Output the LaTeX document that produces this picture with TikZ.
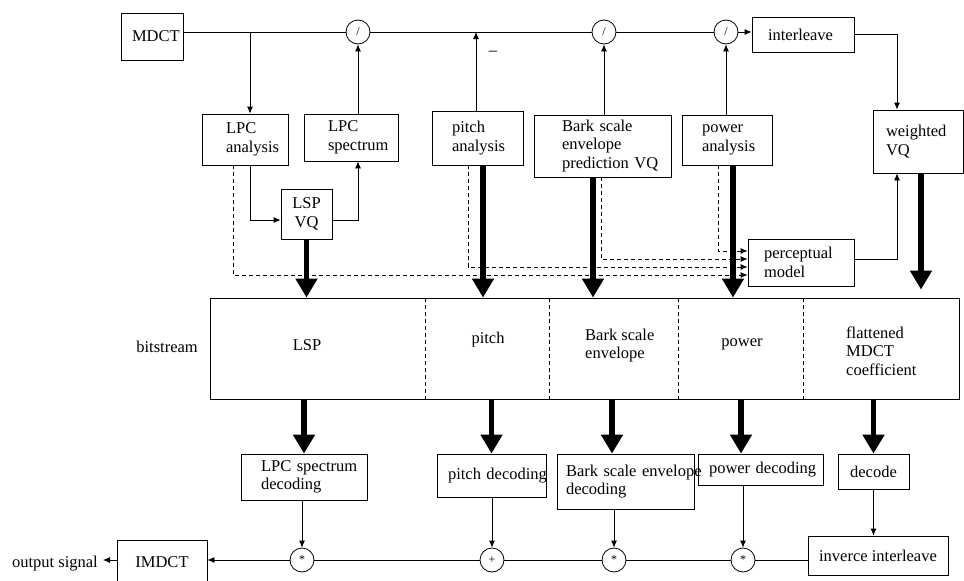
\documentclass[tikz,border=0pt]{standalone}
\usepackage{fontspec}
\setmainfont{Liberation Serif}
\usetikzlibrary{arrows.meta,calc}
\newcommand\diafont{\fontsize{16.5}{18.5}\selectfont}
\begin{document}
\begin{tikzpicture}[x=1pt,y=-1pt,
  every node/.style={font=\diafont},
  box/.style={draw, line width=0.8pt, inner sep=0pt, align=left},
  circ/.style={draw, circle, line width=0.8pt, minimum size=24pt, inner sep=0pt, fill=white, font=\fontsize{12}{12}\selectfont},
  ln/.style={line width=0.8pt},
  arr/.style={line width=0.8pt, -{Latex[length=7pt,width=6pt]}},
  dsh/.style={line width=0.8pt, dash pattern=on 4pt off 3pt, -{Latex[length=7pt,width=6pt]}},
  divl/.style={line width=0.8pt, dash pattern=on 4pt off 3pt},
  fat/.style={line width=5.5pt, -{Triangle[length=19pt,width=21pt]}},
  lbl/.style={inner sep=0pt, align=left}]
\clip (0,0) rectangle (964,581);
\fill[white] (0,0) rectangle (964,581);

% ---------- encoder ----------
\node[box, minimum width=62pt, minimum height=47pt, text width=40pt] (mdct) at (152,36.5) {MDCT};
\node[circ] (c1) at (358,32) {/};
\node[circ] (c2) at (604,32) {/};
\node[circ] (c3) at (726,32) {/};
\node[box, minimum width=102pt, minimum height=35pt, text width=70pt] (il) at (803,34.5) {interleave};
\node[box, minimum width=90pt, minimum height=63pt, text width=64pt] (wvq) at (918,141.5) {weighted\\VQ};
\node[box, minimum width=86pt, minimum height=51pt, text width=38pt] (lpca) at (245,139.5) {LPC\\\mbox{analysis}};
\node[box, minimum width=94pt, minimum height=47pt, text width=46pt] (lpcs) at (351,137.5) {LPC\\\mbox{spectrum}};
\node[box, minimum width=51pt, minimum height=50pt, align=center] (lsp) at (306.5,214) {LSP\\VQ};
\node[box, minimum width=91pt, minimum height=54pt, text width=51pt] (pa) at (477.5,138) {pitch\\\mbox{analysis}};
\node[box, minimum width=137pt, minimum height=62pt, text width=81pt] (bark) at (602.5,146) {Bark scale\\envelope\\\mbox{prediction VQ}};
\node[box, minimum width=90pt, minimum height=50pt, text width=50pt] (pwa) at (727,140) {power\\\mbox{analysis}};
\node[box, minimum width=106pt, minimum height=47pt, text width=74pt] (pm) at (801,262.5) {perceptual\\model};
\node[lbl] (minus) at (493,53) {–};

\coordinate (b1) at (250,32);
\draw[ln] (mdct.east |- c1.west) -- (c1.west);
\draw[ln] (c1.east) -- (c2.west);
\draw[ln] (c2.east) -- (c3.west);
\draw[arr] (c3.east) -- (il.west |- c3.east);
\draw[arr] (il.east) -| ([xshift=-21pt]wvq.north);
\draw[arr] (b1) -- (b1 |- lpca.north);
\draw[arr] (b1 |- lpca.south) |- ([yshift=-6pt]lsp.west);
\draw[arr] ([yshift=-6pt]lsp.east) -| (c1.south |- lpcs.south);
\draw[arr] (c1.south |- lpcs.north) -- (c1.south);
\draw[arr] ([xshift=-1.5pt]pa.north) -- ([xshift=-1.5pt]pa.north |- c1.east);
\draw[arr] (c2.south |- bark.north) -- (c2.south);
\draw[arr] (c3.south |- pwa.north) -- (c3.south);
\draw[arr] ([yshift=3.5pt]pm.east) -| ([xshift=-21pt]wvq.south);

\draw[dsh] ([xshift=-12pt]lpca.south) |- ([yshift=-12.5pt]pm.west);
\draw[dsh] ([xshift=-9.5pt]pa.south) |- ([yshift=-4.5pt]pm.west);
\draw[dsh] ([xshift=-1.5pt]bark.south) |- ([yshift=3.5pt]pm.west);
\draw[dsh] ([xshift=-9pt]pwa.south) |- ([yshift=11.5pt]pm.west);

% ---------- bitstream ----------
\node[draw, line width=0.8pt, minimum width=749pt, minimum height=101pt, inner sep=0pt] (bs) at (584.5,348.5) {};
\node[lbl, anchor=east] (bsl) at (198,347) {bitstream};
\coordinate (d1) at (425,298);
\coordinate (d2) at (549,298);
\coordinate (d3) at (678,298);
\coordinate (d4) at (803,298);
\draw[divl] (d1) -- (d1 |- bs.south);
\draw[divl] (d2) -- (d2 |- bs.south);
\draw[divl] (d3) -- (d3 |- bs.south);
\draw[divl] (d4) -- (d4 |- bs.south);
\node[lbl] (lspl) at (307,345) {LSP};
\node[lbl] (pitl) at (488,340) {pitch};
\node[lbl, anchor=west] (barl) at (585,345.5) {Bark scale\\envelope};
\node[lbl] (powl) at (742,344) {power};
\node[lbl, anchor=west] (fl) at (846,351) {flattened\\MDCT\\coefficient};

\draw[fat] (lsp.south) -- (lsp.south |- bs.north);
\draw[fat] ([xshift=5.5pt]pa.south) -- ([xshift=5.5pt]pa.south |- bs.north);
\draw[fat] ([xshift=-9.5pt]bark.south) -- ([xshift=-9.5pt]bark.south |- bs.north);
\draw[fat] ([xshift=6pt]pwa.south) -- ([xshift=6pt]pwa.south |- bs.north);
\draw[fat, shorten >=8pt] ([xshift=3pt]wvq.south) -- ([xshift=3pt]wvq.south |- bs.north);

% ---------- decoder ----------
\node[box, minimum width=126pt, minimum height=46pt, text width=86pt] (lpcd) at (304,477) {\mbox{LPC spectrum}\\decoding};
\node[box, minimum width=109pt, minimum height=43pt, text width=87pt] (pd) at (491.5,475.5) {\mbox{pitch decoding}};
\node[box, minimum width=137pt, minimum height=55pt, text width=119pt] (bd) at (625.5,481.5) {\mbox{Bark scale envelope}\\decoding};
\node[box, minimum width=125pt, minimum height=31pt, text width=103pt] (pwd) at (760.5,469.5) {\mbox{power decoding}};
\node[box, minimum width=71pt, minimum height=35pt, align=center] (dec) at (873.5,471.5) {decode};
\node[box, minimum width=140pt, minimum height=39pt, align=center] (ii) at (878,555.5) {inverce interleave};
\node[box, minimum width=90pt, minimum height=44pt, align=center] (imdct) at (162,562) {IMDCT};
\node[lbl, anchor=east] (out) at (98,564) {output signal};
\node[circ] (m1) at (302,560) {*};
\node[circ] (m2) at (492,560) {+};
\node[circ] (m3) at (614,560) {*};
\node[circ] (m4) at (743,560) {*};

\coordinate (bdin) at ([xshift=-13.5pt]bd.north);
\coordinate (pwdin) at ([xshift=-19.5pt]pwd.north);
\draw[fat] (bs.south -| lpcd.north) -- (lpcd.north);
\draw[fat] (bs.south -| pd.north) -- (pd.north);
\draw[fat] (bs.south -| bdin) -- (bdin);
\draw[fat] (bs.south -| pwdin) -- (pwdin);
\draw[fat] (bs.south -| dec.north) -- (dec.north);

\draw[arr] (m1.north |- lpcd.south) -- (m1.north);
\draw[arr] (m2.north |- pd.south) -- (m2.north);
\draw[arr] (m3.north |- bd.south) -- (m3.north);
\draw[arr] (m4.north |- pwd.south) -- (m4.north);
\draw[arr] (dec.south) -- (dec.south |- ii.north);
\draw[ln] (ii.west |- m4.east) -- (m4.east);
\draw[ln] (m4.west) -- (m3.east);
\draw[ln] (m3.west) -- (m2.east);
\draw[ln] (m2.west) -- (m1.east);
\draw[arr] (m1.west) -- (imdct.east |- m1.west);
\draw[arr] (imdct.west |- m1.west) -- ([xshift=5pt]out.east |- m1.west);
\end{tikzpicture}
\end{document}
